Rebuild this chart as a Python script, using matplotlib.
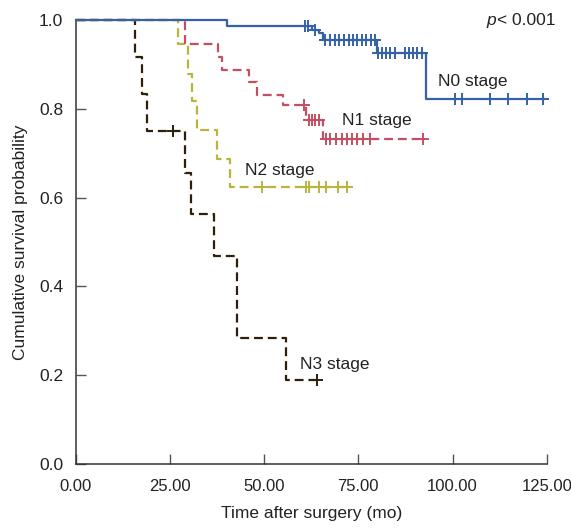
import numpy as np
import matplotlib
matplotlib.use("Agg")
import matplotlib.pyplot as plt

plt.rcParams['font.family'] = ['Liberation Sans', 'DejaVu Sans']

# Kaplan-Meier steps (time in months, survival after the step)
n0_step_t = [0, 40.1, 62.6, 64.6, 65.7, 79.9, 92.9]
n0_step_s = [1.0, 0.988, 0.979, 0.971, 0.956, 0.925, 0.822]
n0_cens_t = [60.9, 61.7, 63.5, 66.2, 67.5, 68.8, 70.0, 71.2, 72.4, 73.5, 74.7, 75.9,
             77.0, 78.3, 79.4, 80.3, 81.2, 82.3, 83.4, 84.7, 87.4, 88.5, 89.6, 90.7,
             91.8, 100.7, 102.4, 110.0, 114.8, 119.7, 124.1]
n0_end = 124.3

n1_step_t = [0, 29.0, 37.8, 38.7, 45.9, 48.0, 55.1, 61.2, 65.7]
n1_step_s = [1.0, 0.946, 0.917, 0.887, 0.861, 0.832, 0.808, 0.775, 0.731]
n1_cens_t = [60.6, 61.8, 62.7, 63.6, 64.5, 66.3, 67.6, 69.0, 70.6, 71.9, 73.2, 74.6,
             76.2, 78.0, 92.2]
n1_end = 92.2

n2_step_t = [0, 27.1, 29.9, 30.8, 32.3, 37.4, 41.0]
n2_step_s = [1.0, 0.946, 0.878, 0.817, 0.752, 0.688, 0.624]
n2_cens_t = [49.5, 61.0, 62.0, 64.5, 66.5, 69.5, 72.0]
n2_end = 72.8

n3_step_t = [0, 15.7, 17.5, 18.8, 29.0, 30.5, 36.7, 42.7, 55.8]
n3_step_s = [1.0, 0.917, 0.833, 0.75, 0.656, 0.5625, 0.469, 0.284, 0.1875]
n3_cens_t = [25.9, 64.0]
n3_end = 64.0

groups = ["N0 stage", "N1 stage", "N2 stage", "N3 stage"]
colors = ["#3562a6", "#c44f63", "#b8b43c", "#2e2008"]
styles = ["solid", (0, (4, 2.2)), (0, (4, 2.2)), (0, (4, 2.2))]
label_pos = [(96.2, 0.862), (70.6, 0.773), (44.9, 0.662), (59.5, 0.224)]

fig = plt.figure(figsize=(5.71, 5.29), dpi=100)
ax = fig.add_axes([0.1326, 0.1238, 0.8249, 0.838])

series = [
    (n0_step_t, n0_step_s, n0_cens_t, n0_end),
    (n1_step_t, n1_step_s, n1_cens_t, n1_end),
    (n2_step_t, n2_step_s, n2_cens_t, n2_end),
    (n3_step_t, n3_step_s, n3_cens_t, n3_end),
]

# draw from N3 up so N0 ends on top
for i in [3, 2, 1, 0]:
    st, ss, ct, end = series[i]
    t = np.array(st + [end])
    s = np.array(ss + [ss[-1]])
    ax.step(t, s, where='post', color=colors[i], lw=1.6, linestyle=styles[i],
            clip_on=False, zorder=3 + (3 - i))
    # censored marks sit on the curve value at that time
    idx = np.searchsorted(np.array(st), np.array(ct), side='right') - 1
    cs = np.array(ss)[idx]
    ax.plot(ct, cs, linestyle='none', marker='+', markersize=8.5, mew=1.4,
            color=colors[i], clip_on=False, zorder=3 + (3 - i))
    ax.text(label_pos[i][0], label_pos[i][1], groups[i], fontsize=12.5,
            color='#222222', ha='left', va='center')

ax.text(111.6, 1.0, "p", style='italic', fontsize=12.5, ha='right', va='center',
        color='#222222')
ax.text(111.8, 1.0, "< 0.001", fontsize=12.5, ha='left', va='center', color='#222222')

ax.set_xlim(0, 125)
ax.set_ylim(0, 1.0)
ax.set_xticks([0, 25, 50, 75, 100, 125])
ax.set_xticklabels(["0.00", "25.00", "50.00", "75.00", "100.00", "125.00"])
ax.set_yticks([0, 0.2, 0.4, 0.6, 0.8, 1.0])
ax.set_yticklabels(["0.0", "0.2", "0.4", "0.6", "0.8", "1.0"])

for side in ['top', 'right']:
    ax.spines[side].set_visible(False)
for side in ['left', 'bottom']:
    ax.spines[side].set_color('#333333')
    ax.spines[side].set_linewidth(1.1)
ax.tick_params(direction='in', length=7.5, width=1.0, color='#555555',
               labelcolor='#222222')
ax.tick_params(axis='x', pad=11, labelsize=12)
ax.tick_params(axis='y', pad=9, labelsize=12.5)

ax.set_xlabel("Time after surgery (mo)", fontsize=12.5, color='#222222', labelpad=9)
ax.set_ylabel("Cumulative survival probability", fontsize=12.5, color='#222222',
              labelpad=8)

fig.savefig("out.png", dpi=100)
